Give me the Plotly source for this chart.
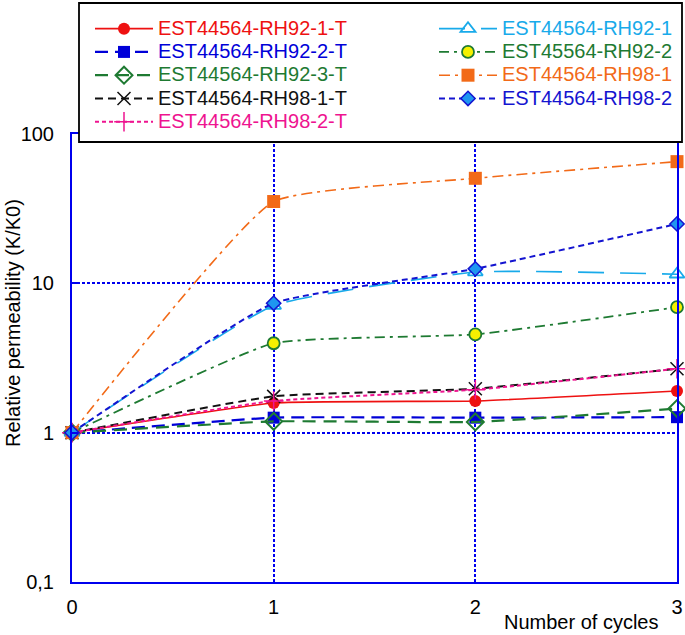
import plotly.graph_objects as go

cycles = [0, 1, 2, 3]
rh92_1_t = [1.0, 1.58, 1.63, 1.90]
rh92_2_t = [1.0, 1.26, 1.26, 1.27]
rh92_3_t = [1.0, 1.19, 1.18, 1.45]
rh98_1_t = [1.0, 1.75, 1.97, 2.68]
rh98_2_t = [1.0, 1.63, 1.94, 2.68]
rh92_1 = [1.0, 7.1, 11.9, 11.5]
rh92_2 = [1.0, 3.97, 4.55, 6.92]
rh98_1 = [1.0, 35.3, 50.5, 65.3]
rh98_2 = [1.0, 7.36, 12.5, 25.0]

ytick_vals = [0.1, 1, 10, 100]
ytick_text = ["0,1", "1", "10", "100"]
xtick_vals = [0, 1, 2, 3]

BLUE = "#0000EE"
W, H = 685, 635
L, R, T, B = 72, 8, 134, 53
PW, PH = W - L - R, H - T - B


def px(x):
    return (x - L) / PW


def py(y):
    return (H - B - y) / PH


def lab(name, color):
    return f"<span style='font-size:20px;fill:{color}'>{name}</span>"


series = [
    ("EST44564-RH92-1-T", rh92_1_t, "#EE1111", "solid", 1.6,
     dict(symbol="circle", size=12, color="#EE1111"), "legend"),
    ("EST44564-RH92-2-T", rh92_2_t, "#0000D8", "13px,7px", 2.2,
     dict(symbol="square", size=12, color="#0000D8"), "legend"),
    ("EST44564-RH92-3-T", rh92_3_t, "#1E7A32", "13px,8px", 2.2,
     dict(symbol="diamond-open", size=13, color="#1E7A32", line=dict(width=2)), "legend"),
    ("EST44564-RH98-1-T", rh98_1_t, "#111111", "8px,5px", 2.0,
     dict(symbol="x-thin-open", size=13, color="#111111", line=dict(width=1.5, color="#111111")), "legend"),
    ("EST44564-RH98-2-T", rh98_2_t, "#EE1490", "4px,3px", 2.0,
     dict(symbol="cross-thin-open", size=14, color="#EE1490", line=dict(width=1.5, color="#EE1490")), "legend"),
    ("EST44564-RH92-1", rh92_1, "#18AAEA", "26px,16px", 1.6,
     dict(symbol="triangle-up-open", size=13, color="#18AAEA", line=dict(width=1.8)), "legend2"),
    ("EST45564-RH92-2", rh92_2, "#1E7A32", "10px,5px,3px,5px", 1.8,
     dict(symbol="circle", size=12, color="#F5F000", line=dict(width=1.8, color="#1E7A32")), "legend2"),
    ("EST44564-RH98-1", rh98_1, "#F26A18", "11px,5px,3px,5px", 1.6,
     dict(symbol="square", size=13, color="#F26A18"), "legend2"),
    ("EST44564-RH98-2", rh98_2, "#1414D0", "6px,4px", 2.0,
     dict(symbol="diamond", size=11, color="#1E96F0", line=dict(width=1.5, color="#1414D0")), "legend2"),
]

fig = go.Figure()
for name, vals, color, dash, lw, mk, lg in series:
    fig.add_trace(go.Scatter(
        x=cycles, y=vals, mode="lines+markers", name=lab(name, color),
        line=dict(color=color, dash=dash, width=lw, shape="spline", smoothing=0.4),
        marker=mk, cliponaxis=False, legend=lg,
    ))

legend_common = dict(
    xref="container", yref="container", xanchor="left", yanchor="top",
    bgcolor="rgba(0,0,0,0)", borderwidth=0, font=dict(family="Liberation Sans, Arial", size=15.6),
    itemwidth=58, tracegroupgap=0, orientation="v",
)

fig.update_layout(
    width=W, height=H,
    margin=dict(l=L, r=R, t=T, b=B, autoexpand=False),
    paper_bgcolor="white", plot_bgcolor="white",
    font=dict(family="Liberation Sans, Arial", size=20, color="black"),
    showlegend=True,
    legend=dict(x=90 / W, y=1 - 12 / H, **legend_common),
    legend2=dict(x=434 / W, y=1 - 12 / H, **legend_common),
    xaxis=dict(
        range=[0, 3], tickvals=xtick_vals, showgrid=True, gridcolor=BLUE, griddash="3px,2px",
        gridwidth=1.5, showline=True, linecolor=BLUE, linewidth=2, mirror=True,
        zeroline=False, ticks="", ticklabelstandoff=6,
        tickfont=dict(size=20, color="black"),
    ),
    yaxis=dict(
        type="log", range=[-1, 2], tickvals=ytick_vals, ticktext=ytick_text,
        showgrid=True, gridcolor=BLUE, griddash="3px,2px", gridwidth=1.5,
        showline=True, linecolor=BLUE, linewidth=2, mirror=True, zeroline=False,
        ticks="inside", ticklen=6, tickcolor=BLUE, tickwidth=2, ticklabelstandoff=12,
        tickfont=dict(size=20, color="black"),
    ),
    shapes=[dict(
        type="rect", xref="paper", yref="paper", layer="above",
        x0=px(79), x1=px(682), y0=py(142), y1=py(3),
        line=dict(color="black", width=1.8), fillcolor="white",
    )],
    annotations=[
        dict(text="Relative permeability (K/K0)", textangle=-90, xref="paper", yref="paper",
             x=px(13), y=py(323), showarrow=False, xanchor="center", yanchor="middle",
             font=dict(size=20, color="black")),
        dict(text="Number of cycles", xref="paper", yref="paper",
             x=px(581), y=py(622), showarrow=False, xanchor="center", yanchor="middle",
             font=dict(size=20, color="black")),
    ],
)

fig.write_html(
    "out.html",
    config={"displayModeBar": False},
    post_script="document.body.style.margin='0px';document.body.style.overflow='hidden';",
)
